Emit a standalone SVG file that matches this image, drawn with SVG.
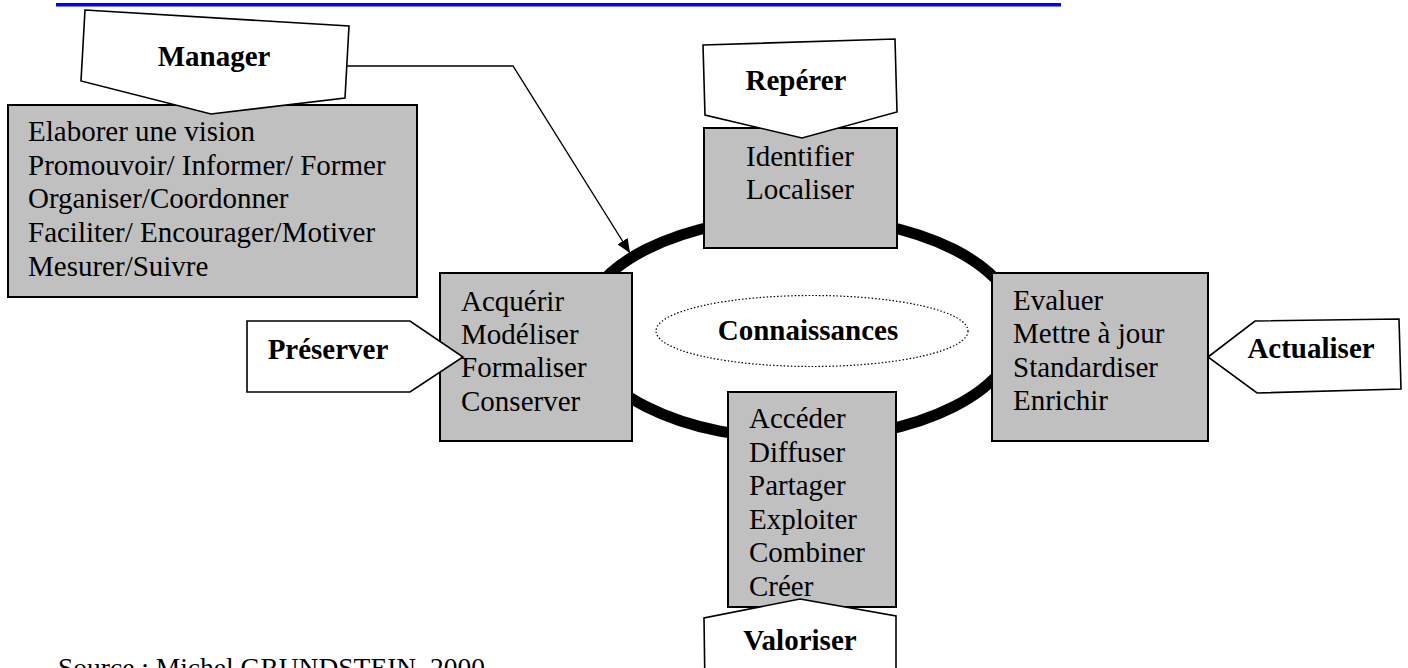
<svg xmlns="http://www.w3.org/2000/svg" width="1408" height="668" viewBox="0 0 1408 668">
  <defs>
    <style>
      .box { fill: #c0c0c0; stroke: #000; stroke-width: 2; }
      .tag { fill: #fff; stroke: #000; stroke-width: 1.6; stroke-linejoin: miter; }
      .txt { font-family: "Liberation Serif", "Times New Roman", serif; font-size: 29px; fill: #000; }
      .lbl { font-family: "Liberation Serif", "Times New Roman", serif; font-size: 29px; font-weight: bold; fill: #000; text-anchor: middle; }
      .src { font-family: "Liberation Serif", "Times New Roman", serif; font-size: 27.5px; fill: #000; }
      .link { fill: none; stroke: #000; stroke-width: 1.4; }
    </style>
    <marker id="arrow" viewBox="0 0 14 12" refX="14" refY="6" markerWidth="14" markerHeight="12" markerUnits="userSpaceOnUse" orient="auto">
      <path d="M0,0 L14,6 L0,12 z" fill="#000"/>
    </marker>
  </defs>

  <rect width="1408" height="668" fill="#fff"/>

  <!-- heading underline -->
  <rect x="56" y="3" width="1005" height="3.5" fill="#0000ff"/>

  <!-- knowledge cycle -->
  <g id="cycle">
    <ellipse cx="800" cy="328" rx="218" ry="111" fill="none" stroke="#000" stroke-width="11"/>
  </g>

  <g id="connaissances">
    <ellipse cx="812" cy="331" rx="156" ry="35.5" fill="none" stroke="#000" stroke-width="1.2" stroke-dasharray="1.5 2"/>
    <text class="lbl" x="808" y="340">Connaissances</text>
  </g>

  <!-- connectors -->
  <g id="connectors">
    <polyline class="link" points="344,66 513,66 630,253" marker-end="url(#arrow)"/>
  </g>

  <g id="manager">
    <rect class="box" x="8" y="105" width="409" height="192"/>
    <polygon class="tag" points="85,10 349,26 345,98 211,114 81,81"/>
    <text class="lbl" x="214" y="66">Manager</text>
    <text class="txt" x="28" y="141">Elaborer une vision</text>
    <text class="txt" x="28" y="175">Promouvoir/ Informer/ Former</text>
    <text class="txt" x="28" y="208">Organiser/Coordonner</text>
    <text class="txt" x="28" y="242">Faciliter/ Encourager/Motiver</text>
    <text class="txt" x="28" y="276">Mesurer/Suivre</text>
  </g>

  <g id="reperer">
    <rect class="box" x="704" y="128" width="193" height="120"/>
    <polygon class="tag" points="703,45 895,39 897,112 802,138 705,115"/>
    <text class="lbl" x="796" y="90">Repérer</text>
    <text class="txt" x="746" y="166">Identifier</text>
    <text class="txt" x="746" y="199">Localiser</text>
  </g>

  <g id="preserver">
    <rect class="box" x="440" y="273" width="192" height="168"/>
    <polygon class="tag" points="247,321 410,321 463,357 410,392 247,392"/>
    <text class="lbl" x="328" y="359">Préserver</text>
    <text class="txt" x="461" y="311">Acquérir</text>
    <text class="txt" x="461" y="344">Modéliser</text>
    <text class="txt" x="461" y="377">Formaliser</text>
    <text class="txt" x="461" y="411">Conserver</text>
  </g>

  <g id="actualiser">
    <rect class="box" x="992" y="273" width="216" height="168"/>
    <polygon class="tag" points="1208,357 1255,321 1399,319 1401,389 1257,393"/>
    <text class="lbl" x="1311" y="358">Actualiser</text>
    <text class="txt" x="1013" y="310">Evaluer</text>
    <text class="txt" x="1013" y="343">Mettre à jour</text>
    <text class="txt" x="1013" y="377">Standardiser</text>
    <text class="txt" x="1013" y="410">Enrichir</text>
  </g>

  <g id="valoriser">
    <rect class="box" x="728" y="392" width="168" height="215"/>
    <text class="txt" x="749" y="428">Accéder</text>
    <text class="txt" x="749" y="462">Diffuser</text>
    <text class="txt" x="749" y="495">Partager</text>
    <text class="txt" x="749" y="529">Exploiter</text>
    <text class="txt" x="749" y="562">Combiner</text>
    <text class="txt" x="749" y="596">Créer</text>
    <polygon class="tag" points="800,599 896,616 896,690 705,690 704,618"/>
    <text class="lbl" x="800" y="650">Valoriser</text>
  </g>

  <text class="src" x="58" y="677">Source : Michel GRUNDSTEIN, 2000</text>
</svg>
